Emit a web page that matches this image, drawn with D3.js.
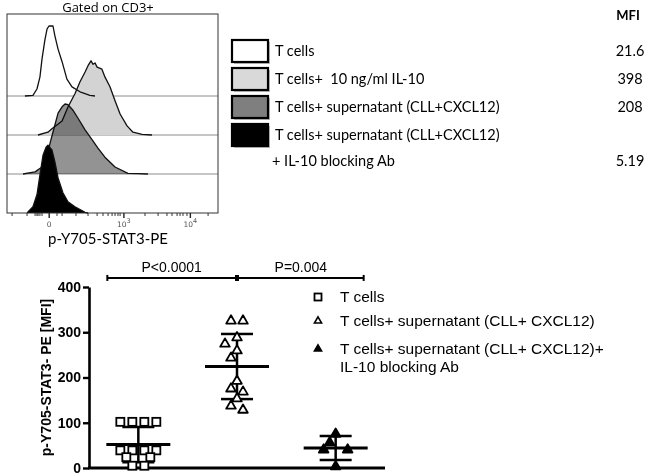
<!DOCTYPE html>
<html>
<head>
<meta charset="utf-8">
<script src="https://cdn.jsdelivr.net/npm/d3@7"></script>
<style>
  body { margin: 0; background: #fff; }
  svg { display: block; }
</style>
</head>
<body>
<svg id="chart" width="652" height="476"></svg>
<script>
// ---- flow histograms (channel, % of peak) ----
var histTcells = [[85,0],[123,1],[142,10],[156,27],[166,53],[180,81],[190,96],[199,100],[218,100],[227,86],[242,67],[261,49],[284,24],[308,13],[346,6],[393,1],[417,0]];
var histIL10 = [[147,0],[194,4],[213,9],[261,20],[289,40],[322,59],[346,76],[370,90],[384,99],[398,106],[408,101],[417,103],[427,97],[450,94],[464,83],[488,69],[512,49],[536,30],[569,13],[597,4],[640,1],[687,0]];
var histSup = [[76,0],[133,3],[166,10],[190,24],[204,44],[218,60],[227,70],[242,87],[261,96],[275,100],[289,99],[313,91],[336,80],[370,63],[403,49],[431,37],[464,24],[512,10],[573,1],[621,0.5],[668,0]];
var histBlock = [[95,0],[123,9],[142,26],[156,54],[171,83],[185,94],[194,97],[213,90],[227,73],[242,50],[265,29],[289,16],[322,9],[370,1],[384,0]];

var histMajorTicks = [200, 554, 869];
var histMajorLabels = [["0", ""], ["10", "3"], ["10", "4"]];
var histMinorTicks = [24,95,133,142,147,156,166,237,261,327,384,427,455,479,498,512,526,536,654,716,758,782,806,820,834,853,953];

var legendLabels = ["T cells", "T cells+  10 ng/ml IL-10", "T cells+ supernatant (CLL+CXCL12)", "T cells+ supernatant (CLL+CXCL12)"];
var legendExtra = "+ IL-10 blocking Ab";
var mfiValues = ["21.6", "398", "208", "5.19"];

// ---- scatter data (MFI) ----
var groups = ["T cells", "T cells+ supernatant (CLL+ CXCL12)", "T cells+ supernatant (CLL+ CXCL12)+\nIL-10 blocking Ab"];
var tCellsMFI = [102, 102, 102, 102, 39, 39, 39, 39, 24, 24, 5, 5];
var supMFI = [327, 327, 290, 276, 261, 245, 194, 177, 170, 155, 139, 130];
var blockMFI = [77, 58, 42, 40, 5];
var yTicks = [0, 100, 200, 300, 400];
var comparisons = [{ a: 0, b: 1, label: "P<0.0001" }, { a: 1, b: 2, label: "P=0.004" }];

var svg = d3.select("#chart");
var sans = "Lato, 'Open Sans', sans-serif";

// ================= top: histogram overlay =================
var hx = d3.scaleLinear().domain([0, 1000]).range([7, 218]);
var lane = d3.scaleLinear().domain([0, 3]).range([96, 213]);
var hh = d3.scaleLinear().domain([0, 100]).range([0, 70]);

var hg = svg.append("g");

hg.append("text")
    .attr("x", 108).attr("y", 12)
    .attr("text-anchor", "middle")
    .style("font", "13px 'Open Sans', sans-serif")
    .text("Gated on CD3+");

// lane baselines
hg.selectAll(".base")
    .data([0, 1, 2])
    .enter().append("line")
    .attr("x1", hx(0)).attr("x2", hx(1000))
    .attr("y1", function (d) { return lane(d); })
    .attr("y2", function (d) { return lane(d); })
    .attr("stroke", "#8c8c8c").attr("stroke-width", 1);

var hists = [
    { data: histIL10, lane: 1, fill: "#d3d3d3", blend: "normal" },
    { data: histSup, lane: 2, fill: "#939393", blend: "multiply" },
    { data: histBlock, lane: 3, fill: "#000", blend: "normal" },
    { data: histTcells, lane: 0, fill: "none", blend: "normal" }
];

hists.forEach(function (h) {
    var base = lane(h.lane);
    var area = d3.area()
        .x(function (d) { return hx(d[0]); })
        .y0(base)
        .y1(function (d) { return base - hh(d[1]); });
    var line = d3.line()
        .x(function (d) { return hx(d[0]); })
        .y(function (d) { return base - hh(d[1]); });
    if (h.fill !== "none") {
        hg.append("path")
            .attr("d", area(h.data))
            .attr("fill", h.fill)
            .style("mix-blend-mode", h.blend);
    }
    hg.append("path")
        .attr("d", line(h.data))
        .attr("fill", "none")
        .attr("stroke", "#111")
        .attr("stroke-width", 1.3)
        .attr("stroke-linejoin", "round");
});

// frame
hg.append("rect")
    .attr("x", hx(0)).attr("y", 14)
    .attr("width", hx(1000) - hx(0)).attr("height", lane(3) - 14)
    .attr("fill", "none").attr("stroke", "#333").attr("stroke-width", 1);

// x ticks
hg.selectAll(".minor")
    .data(histMinorTicks)
    .enter().append("line")
    .attr("x1", function (d) { return hx(d); }).attr("x2", function (d) { return hx(d); })
    .attr("y1", lane(3)).attr("y2", lane(3) + 3)
    .attr("stroke", "#333").attr("stroke-width", 1);

hg.selectAll(".major")
    .data(histMajorTicks)
    .enter().append("line")
    .attr("x1", function (d) { return hx(d); }).attr("x2", function (d) { return hx(d); })
    .attr("y1", lane(3)).attr("y2", lane(3) + 5)
    .attr("stroke", "#222").attr("stroke-width", 1.4);

var lab = hg.selectAll(".mlab")
    .data(histMajorTicks)
    .enter().append("text")
    .attr("x", function (d) { return hx(d); })
    .attr("y", 227)
    .attr("text-anchor", "middle")
    .attr("fill", "#555")
    .style("font", "7.5px 'DejaVu Sans', sans-serif");
lab.append("tspan").text(function (d, i) { return histMajorLabels[i][0]; });
lab.append("tspan")
    .attr("dy", -4)
    .style("font-size", "6.5px")
    .text(function (d, i) { return histMajorLabels[i][1]; });

hg.append("text")
    .attr("x", 48).attr("y", 244)
    .style("font", "15px " + sans)
    .text("p-Y705-STAT3-PE");

// legend boxes
var ly = d3.scaleLinear().domain([0, 3]).range([40, 124]);
var boxFills = ["#fff", "#d9d9d9", "#7f7f7f", "#000"];
var leg = hg.selectAll(".leg")
    .data(legendLabels)
    .enter().append("g")
    .attr("transform", function (d, i) { return "translate(0," + ly(i) + ")"; });
leg.append("rect")
    .attr("x", 234).attr("y", 2).attr("width", 36).attr("height", 22)
    .attr("fill", "#bbb");
leg.append("rect")
    .attr("x", 232).attr("y", 0).attr("width", 36).attr("height", 22)
    .attr("fill", function (d, i) { return boxFills[i]; })
    .attr("stroke", "#000").attr("stroke-width", 2.2);
leg.append("text")
    .attr("x", 275).attr("y", 16)
    .style("font", "14.5px " + sans)
    .style("white-space", "pre")
    .text(function (d) { return d; });

hg.append("text")
    .attr("x", 272).attr("y", ly(3) + 42)
    .style("font", "14.5px " + sans)
    .text(legendExtra);

hg.append("text")
    .attr("x", 628).attr("y", 20)
    .attr("text-anchor", "middle")
    .style("font", "bold 13px " + sans)
    .text("MFI");

hg.selectAll(".mfi")
    .data(mfiValues)
    .enter().append("text")
    .attr("x", 630)
    .attr("y", function (d, i) { return i < 3 ? ly(i) + 16 : ly(3) + 42; })
    .attr("text-anchor", "middle")
    .style("font", "14.5px " + sans)
    .text(function (d) { return d; });

// ================= bottom: scatter with mean ± SD =================
var x = d3.scalePoint().domain(d3.range(groups.length)).range([89, 385]).padding(0.5);
var y = d3.scaleLinear().domain([0, 400]).range([468, 287]);
var font = "Arial, 'Liberation Sans', sans-serif";

var bot = svg.append("g");

var yAxis = bot.append("g")
    .attr("transform", "translate(89,0)")
    .call(d3.axisLeft(y).tickValues(yTicks).tickSize(6).tickSizeOuter(0).tickPadding(2));
yAxis.select(".domain").attr("stroke-width", 2.6);
yAxis.selectAll(".tick line").attr("stroke-width", 2.4);
yAxis.selectAll(".tick text")
    .style("font", "bold 14px " + font)
    .attr("fill", "#000");

bot.append("line")
    .attr("x1", x.range()[0] - 1).attr("x2", x.range()[1])
    .attr("y1", y(0)).attr("y2", y(0))
    .attr("stroke", "#000").attr("stroke-width", 3);

bot.append("text")
    .attr("transform", "translate(51," + y(200) + ") rotate(-90)")
    .attr("text-anchor", "middle")
    .style("font", "bold 14px " + font)
    .text("p-Y705-STAT3- PE [MFI]");

// scatter layout: tied values sit in a centred row, single points shift sideways on collision
function swarm(values, cx) {
    var placed = [], minDist = 9, step = 6;
    var sorted = values.slice().sort(function (a, b) { return b - a; });
    var rows = [];
    sorted.forEach(function (v) {
        var last = rows[rows.length - 1];
        if (last && Math.abs(y(last[0]) - y(v)) < 1) last.push(v);
        else rows.push([v]);
    });
    function free(px, py) {
        return placed.every(function (p) { return Math.hypot(p.x - px, p.y - py) >= minDist; });
    }
    rows.forEach(function (row) {
        var py = y(row[0]), n = row.length, offs;
        if (n === 1) {
            for (var k = 0; k < 30; k++) {
                var o = k === 0 ? 0 : (k % 2 ? -1 : 1) * Math.ceil(k / 2) * step;
                if (free(cx + o, py)) { offs = [o]; break; }
            }
        } else {
            for (var s = 2 * step; s < 60; s += step) {
                offs = row.map(function (v, j) { return (j - (n - 1) / 2) * s; });
                if (offs.every(function (o) { return free(cx + o, py); })) break;
            }
        }
        offs.forEach(function (o) { placed.push({ x: cx + o, y: py }); });
    });
    return placed;
}

var series = [tCellsMFI, supMFI, blockMFI];
var meanHalf = 32, capHalf = 16;

series.forEach(function (vals, gi) {
    var cx = x(gi);
    var m = d3.mean(vals), sd = d3.deviation(vals);
    var g = bot.append("g");

    g.append("line")
        .attr("x1", cx).attr("x2", cx)
        .attr("y1", y(m - sd)).attr("y2", y(m + sd))
        .attr("stroke", "#000").attr("stroke-width", 2.5);
    [m - sd, m + sd].forEach(function (v) {
        g.append("line")
            .attr("x1", cx - capHalf).attr("x2", cx + capHalf)
            .attr("y1", y(v)).attr("y2", y(v))
            .attr("stroke", "#000").attr("stroke-width", 2.5);
    });
    g.append("line")
        .attr("x1", cx - meanHalf).attr("x2", cx + meanHalf)
        .attr("y1", y(m)).attr("y2", y(m))
        .attr("stroke", "#000").attr("stroke-width", 3);

    var pts = swarm(vals, cx);
    if (gi === 0) {
        g.selectAll("rect.pt").data(pts).enter().append("rect")
            .attr("class", "pt")
            .attr("x", function (d) { return d.x - 4; })
            .attr("y", function (d) { return d.y - 4; })
            .attr("width", 8).attr("height", 8)
            .attr("fill", "#fff").attr("stroke", "#000").attr("stroke-width", 1.8);
    } else {
        g.selectAll("path.pt").data(pts).enter().append("path")
            .attr("class", "pt")
            .attr("d", d3.symbol(d3.symbolTriangle, 40))
            .attr("transform", function (d) { return "translate(" + d.x + "," + (d.y + 0.8) + ")"; })
            .attr("fill", gi === 1 ? "#fff" : "#000")
            .attr("stroke", "#000").attr("stroke-width", 1.8)
            .attr("stroke-linejoin", "round");
    }
});

// significance bars
var barY = y(420);
comparisons.forEach(function (c) {
    var x1 = c.a === 0 ? x(c.a) - meanHalf + 1 : x(c.a) + 1;
    var x2 = c.b === groups.length - 1 ? x(c.b) + meanHalf - 4 : x(c.b) - 1;
    bot.append("line")
        .attr("x1", x1).attr("x2", x2).attr("y1", barY).attr("y2", barY)
        .attr("stroke", "#000").attr("stroke-width", 2);
    [x1, x2].forEach(function (xx) {
        bot.append("line")
            .attr("x1", xx).attr("x2", xx).attr("y1", barY - 3).attr("y2", barY + 3)
            .attr("stroke", "#000").attr("stroke-width", 2);
    });
    bot.append("text")
        .attr("x", (x1 + x2) / 2).attr("y", barY - 6)
        .attr("text-anchor", "middle")
        .style("font", "14px " + font)
        .text(c.label);
});

// legend
var legY = [297, 321, 349];
var lg = bot.selectAll(".lg")
    .data(groups)
    .enter().append("g")
    .attr("transform", function (d, i) { return "translate(318," + legY[i] + ")"; });
lg.each(function (d, i) {
    var s = d3.select(this);
    if (i === 0) {
        s.append("rect").attr("x", -3.5).attr("y", -3.5).attr("width", 7).attr("height", 7)
            .attr("fill", "#fff").attr("stroke", "#000").attr("stroke-width", 1.8);
    } else {
        s.append("path").attr("d", d3.symbol(d3.symbolTriangle, 22))
            .attr("fill", i === 1 ? "#fff" : "#000")
            .attr("stroke", "#000").attr("stroke-width", 1.6);
    }
    var t = s.append("text")
        .attr("x", 22).attr("y", 5)
        .style("font", "15.5px " + font);
    d.split("\n").forEach(function (line, k) {
        t.append("tspan").attr("x", 22).attr("dy", k === 0 ? 0 : 18).text(line);
    });
});
</script>
</body>
</html>
